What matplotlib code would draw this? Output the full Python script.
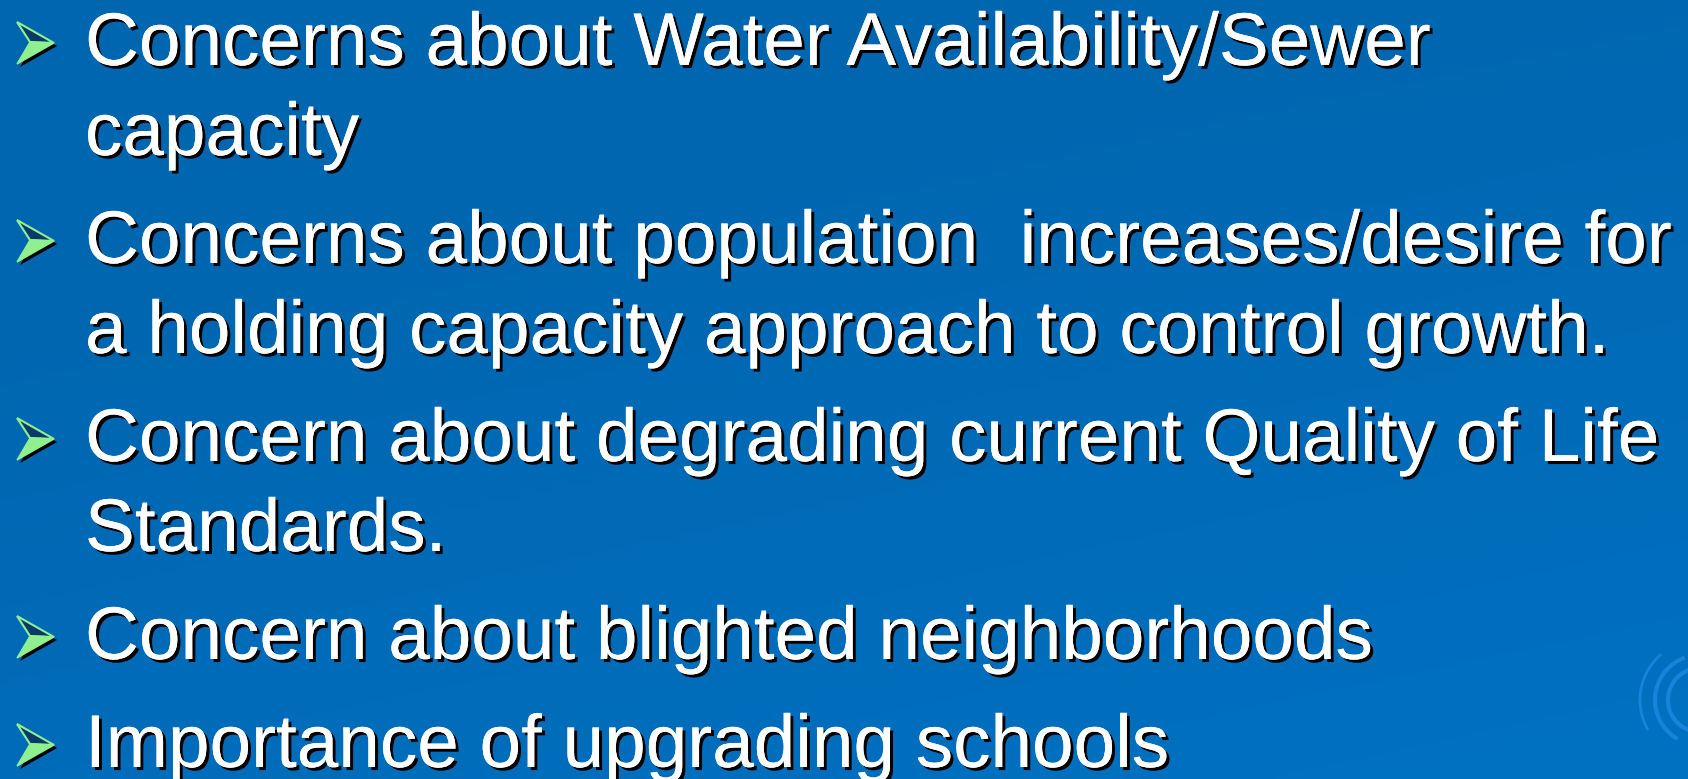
import matplotlib
matplotlib.use("Agg")
import matplotlib.pyplot as plt
import matplotlib.patheffects as pe
from matplotlib.patches import Polygon, Arc
import numpy as np

# slide content
bullets = [
    ["Concerns about Water Availability/Sewer", "capacity"],
    ["Concerns about population  increases/desire for",
     "a holding capacity approach to control growth."],
    ["Concern about degrading current Quality of Life", "Standards."],
    ["Concern about blighted neighborhoods"],
    ["Importance of upgrading schools"],
]

W, H = 1688, 779
bg_top = (0 / 255, 102 / 255, 176 / 255)
bg_bottom = (0 / 255, 116 / 255, 198 / 255)
swirl = (40 / 255, 145 / 255, 235 / 255)

fig = plt.figure(figsize=(W / 100, H / 100), dpi=100)
ax = fig.add_axes([0, 0, 1, 1])
ax.set_xlim(0, W)
ax.set_ylim(H, 0)
ax.axis("off")

# background gradient (slightly lighter towards bottom right)
gy, gx = np.mgrid[0:1:200j, 0:1:400j]
t = np.clip(0.75 * gy + 0.35 * gx - 0.3, 0, 1)
grad = np.zeros((200, 400, 3))
for c in range(3):
    grad[..., c] = bg_top[c] + (bg_bottom[c] - bg_top[c]) * t
ax.imshow(grad, extent=[0, W, H, 0], aspect="auto", zorder=0)

# faint swirl decoration bottom right
for r, a1, a2, lw in [(45, 120, 250, 3), (32, 110, 260, 3), (60, 150, 230, 2)]:
    ax.add_patch(Arc((1700, 700), 2 * r, 2 * r, theta1=a1, theta2=a2,
                     color=swirl, lw=lw, alpha=0.6, zorder=1))
ax.add_patch(Arc((1560, 1050), 700, 580, theta1=55, theta2=120,
                 color=swirl, lw=3, alpha=0.6, zorder=1))


def draw_bullet(x, y):
    # 3D arrowhead bullet, y is the text baseline
    top = (x, y - 43)
    tip = (x + 37, y - 22)
    bot = (x, y - 1)
    notch = (x + 13, y - 23)
    sh = 3
    ax.add_patch(Polygon([(p[0] + sh, p[1] + sh) for p in [top, tip, bot, notch]],
                         closed=True, fc="black", ec="none", zorder=3))
    ax.add_patch(Polygon([top, tip, notch], closed=True, fc="#0a3a6a",
                         ec="#90f090", lw=1.5, zorder=4))
    ax.add_patch(Polygon([notch, tip, bot], closed=True, fc="#90f090",
                         ec="#90f090", lw=1, zorder=4))


shadow = [pe.withSimplePatchShadow(offset=(2.2, -2.2), shadow_rgbFace="black",
                                   alpha=1.0, rho=1.0), pe.Normal()]

text_x = 85
y = 65
first_gap = 90
para_gap = 108
for item in bullets:
    draw_bullet(17, y)
    for j, line in enumerate(item):
        if j > 0:
            y += first_gap
        ax.text(text_x, y, line, fontsize=53.8, family="Liberation Sans",
                color="white", va="baseline", ha="left", zorder=5,
                path_effects=shadow)
    y += para_gap

fig.savefig("out.png", dpi=100)
